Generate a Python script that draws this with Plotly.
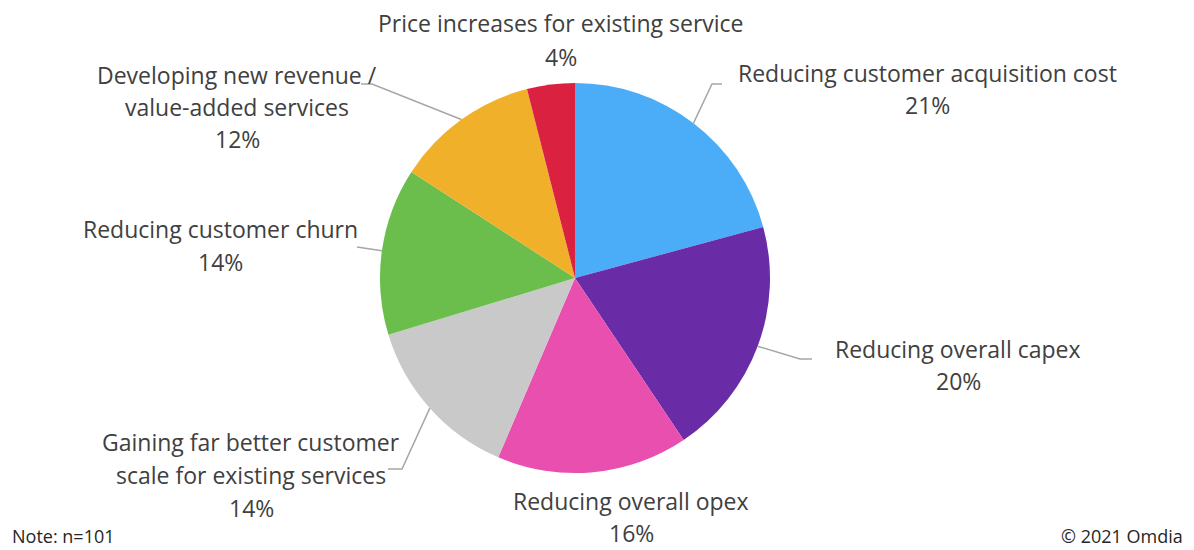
import math
import plotly.graph_objects as go

# ---- data ----
categories = [
    "Reducing customer acquisition cost",
    "Reducing overall capex",
    "Reducing overall opex",
    "Gaining far better customer scale for existing services",
    "Reducing customer churn",
    "Developing new revenue / value-added services",
    "Price increases for existing service",
]
values = [21, 20, 16, 14, 14, 12, 4]
label_lines = [
    ["Reducing customer acquisition cost"],
    ["Reducing overall capex"],
    ["Reducing overall opex"],
    ["Gaining far better customer", "scale for existing services"],
    ["Reducing customer churn"],
    ["Developing new revenue /", "value-added services"],
    ["Price increases for existing service"],
]
colors = ["#4BADF7", "#6A2BA7", "#E94FAE", "#C9C9C9", "#6BBE4B", "#F1B02A", "#DA2140"]

# ---- layout constants (pixels) ----
W, H = 1194, 550
CX, CY, R = 575, 278, 195
# label block centre x, first-line y, line spacing
label_pos = [(927, 73, 32), (958, 349, 32), (631, 501, 32), (251, 442, 33),
             (220, 229, 33), (237, 75, 32), (561, 23, 34)]
# leader line: elbow point and end point (None = no leader)
leaders = [((712, 84), (722, 84)), ((800, 359), (812, 359)), None,
           ((402, 469), (388, 469)), ((357, 247), (357, 247)), ((372, 84), (361, 84)), None]
TEXT_COLOR = "#404040"
FONT = "Open Sans"
FS = 23


def px(x):
    return x / W


def py(y):
    return 1 - y / H


fig = go.Figure(go.Pie(
    labels=categories,
    values=values,
    sort=False,
    direction="clockwise",
    rotation=0,
    marker=dict(colors=colors, line=dict(width=0)),
    textinfo="none",
    hoverinfo="label+percent",
    domain=dict(x=[px(CX - R), px(CX + R)], y=[py(CY + R), py(CY - R)]),
    showlegend=False,
))

total = sum(values)
annotations = []
shapes = []
cum = 0
for i, v in enumerate(values):
    mid = (cum + v / 2) / total * 2 * math.pi
    cum += v
    ex = CX + R * math.sin(mid)
    ey = CY - R * math.cos(mid)
    lx, ly, lh = label_pos[i]
    lines = label_lines[i] + [f"{round(v / total * 100)}%"]
    for k, t in enumerate(lines):
        annotations.append(dict(
            x=px(lx), y=py(ly + k * lh), xref="paper", yref="paper",
            text=t, showarrow=False, xanchor="center", yanchor="middle",
            font=dict(family=FONT, size=FS, color=TEXT_COLOR),
        ))
    if leaders[i] is not None:
        (bx, by), (fx, fy) = leaders[i]
        shapes.append(dict(
            type="path", xref="paper", yref="paper",
            path=f"M {px(ex)} {py(ey)} L {px(bx)} {py(by)} L {px(fx)} {py(fy)}",
            line=dict(color="#A6A6A6", width=1.5),
        ))

annotations.append(dict(x=px(10), y=py(536), xref="paper", yref="paper", text="Note: n=101",
                        showarrow=False, xanchor="left", yanchor="middle",
                        font=dict(family=FONT, size=18, color="#262626")))
annotations.append(dict(x=px(1185), y=py(536), xref="paper", yref="paper", text="© 2021 Omdia",
                        showarrow=False, xanchor="right", yanchor="middle",
                        font=dict(family=FONT, size=18, color="#262626")))

fig.update_layout(
    width=W, height=H, autosize=False,
    margin=dict(l=0, r=0, t=0, b=0),
    paper_bgcolor="white", plot_bgcolor="white",
    annotations=annotations, shapes=shapes,
)

fig.write_html("out.html")
